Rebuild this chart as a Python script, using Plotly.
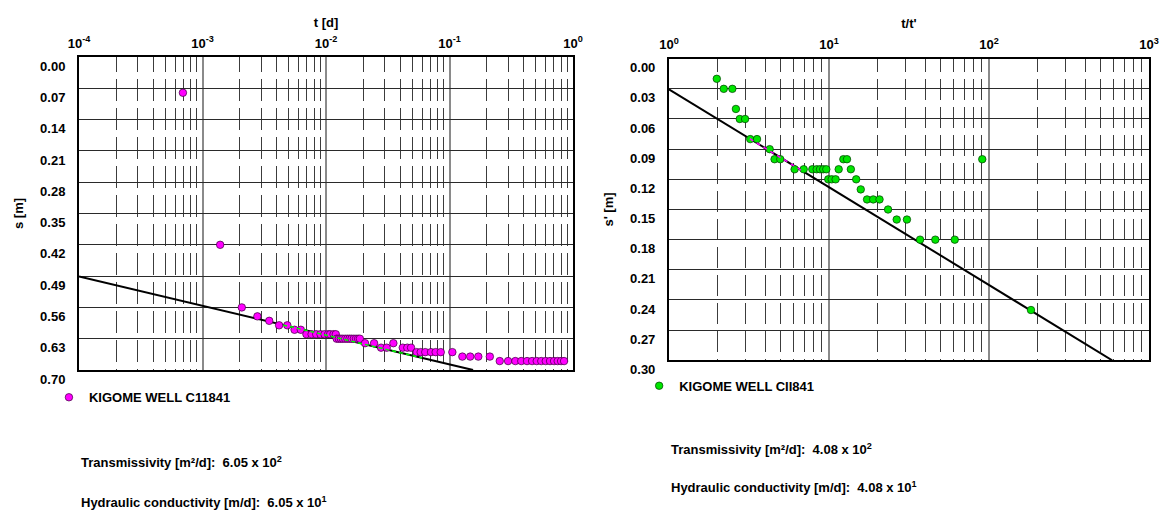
import numpy as np
import plotly.graph_objects as go

# ---- Drawdown test: time since pumping started [d] vs drawdown s [m]
drawdown_t = [
    6.94e-4, 1.39e-3, 2.08e-3, 2.78e-3, 3.47e-3, 4.17e-3, 4.86e-3, 5.56e-3,
    6.25e-3, 6.94e-3, 7.64e-3, 8.33e-3, 9.03e-3, 9.72e-3, 1.04e-2, 1.08e-2,
    1.15e-2, 1.20e-2,
    1.22e-2, 1.27e-2, 1.32e-2, 1.37e-2, 1.43e-2, 1.49e-2, 1.55e-2, 1.61e-2,
    1.68e-2, 1.75e-2, 1.82e-2, 1.88e-2,
    2.07e-2, 2.45e-2, 2.79e-2, 3.10e-2, 3.51e-2, 4.18e-2, 4.55e-2, 4.88e-2,
    5.42e-2, 5.84e-2, 6.36e-2, 7.08e-2, 7.72e-2, 8.49e-2, 0.1054, 0.127,
    0.147, 0.171, 0.212, 0.255, 0.298, 0.341, 0.381, 0.424, 0.466, 0.508,
    0.553, 0.601, 0.651, 0.702, 0.751, 0.800, 0.846,
]
drawdown_s = [
    0.08, 0.42, 0.56, 0.58, 0.59, 0.60, 0.60, 0.61,
    0.61, 0.62, 0.62, 0.62, 0.62, 0.62, 0.62, 0.62,
    0.62, 0.62,
    0.63, 0.63, 0.63, 0.63, 0.63, 0.63, 0.63, 0.63,
    0.63, 0.63, 0.63, 0.63,
    0.64, 0.64, 0.65, 0.65, 0.64, 0.65, 0.65, 0.65,
    0.66, 0.66, 0.66, 0.66, 0.66, 0.66, 0.66, 0.67,
    0.67, 0.67, 0.67, 0.68, 0.68, 0.68, 0.68, 0.68, 0.68, 0.68,
    0.68, 0.68, 0.68, 0.68, 0.68, 0.68, 0.68,
]

# ---- Recovery test: t/t' vs residual drawdown s' [m]
recovery_ratio = [
    1.99, 2.20, 2.49, 2.62, 2.77, 2.99, 3.22, 3.55, 4.26, 4.57, 4.96, 6.10,
    6.95, 7.87, 8.38, 8.79, 9.21, 9.62, 9.90, 10.4, 11.0, 11.5, 12.3, 12.96,
    13.7, 14.8, 15.8, 17.3, 18.9, 20.7, 23.4, 26.5, 30.7, 37.1, 46.2, 61.1,
    90.8, 183.0,
]
recovery_s = [
    0.02, 0.03, 0.03, 0.05, 0.06, 0.06, 0.08, 0.08, 0.09, 0.10, 0.10, 0.11,
    0.11, 0.11, 0.11, 0.11, 0.11, 0.11, 0.12, 0.12, 0.12, 0.11, 0.10, 0.10,
    0.11, 0.12, 0.13, 0.14, 0.14, 0.14, 0.15, 0.16, 0.16, 0.18, 0.18, 0.18,
    0.10, 0.25,
]

# ---- Straight-line (Cooper-Jacob) fits: s = intercept + slope * log10(t)
drawdown_fit = {"intercept": 0.753, "slope": 0.0655, "from": 1e-4, "to_s": 0.70,
                "range": [4.5e-3, 6.0e-2]}
recovery_fit = {"intercept": 0.0305, "slope": 0.0973, "from": 1.0, "to_s": 0.30,
                "range": [3.2, 7.0]}

drawdown_ticks = [0.00, 0.07, 0.14, 0.21, 0.28, 0.35, 0.42, 0.49, 0.56, 0.63, 0.70]
recovery_ticks = [0.00, 0.03, 0.06, 0.09, 0.12, 0.15, 0.18, 0.21, 0.24, 0.27, 0.30]

series_left = "KIGOME WELL C11841"
series_right = "KIGOME WELL CII841"

FONT = "Liberation Sans, Arial, sans-serif"
MAGENTA = "#ff00ff"
GREEN = "#00e600"


def fit_line(fit):
    a, b = fit["intercept"], fit["slope"]
    x_end = 10 ** ((fit["to_s"] - a) / b)
    x = np.array([fit["from"], x_end])
    return x, a + b * np.log10(x)


def fit_segment(fit):
    a, b = fit["intercept"], fit["slope"]
    x = np.array(fit["range"])
    return x, a + b * np.log10(x)


def decade_ticks(lo, hi):
    vals = [10.0 ** k for k in range(lo, hi + 1)]
    text = [f"10<sup>{k}</sup>" for k in range(lo, hi + 1)]
    return vals, text


def minor_vals(lo, hi):
    return [d * 10.0 ** k for k in range(lo, hi) for d in range(2, 10)]


fig = go.Figure()

# fitted straight lines
lx, ly = fit_line(drawdown_fit)
fig.add_trace(go.Scatter(x=lx, y=ly, mode="lines", xaxis="x", yaxis="y",
                         line=dict(color="black", width=2), showlegend=False,
                         hoverinfo="skip"))
rx, ry = fit_line(recovery_fit)
fig.add_trace(go.Scatter(x=rx, y=ry, mode="lines", xaxis="x2", yaxis="y2",
                         line=dict(color="black", width=2), showlegend=False,
                         hoverinfo="skip"))

# observations
fig.add_trace(go.Scatter(
    x=drawdown_t, y=drawdown_s, mode="markers", name=series_left,
    xaxis="x", yaxis="y", legend="legend",
    marker=dict(color=MAGENTA, size=7.5, line=dict(color="rgba(60,0,60,0.7)", width=1)),
))
fig.add_trace(go.Scatter(
    x=recovery_ratio, y=recovery_s, mode="markers", name=series_right,
    xaxis="x2", yaxis="y2", legend="legend2",
    marker=dict(color=GREEN, size=7.5, line=dict(color="rgba(0,60,0,0.7)", width=1)),
))

# points used for the fit, highlighted along the line
sx, sy = fit_segment(drawdown_fit)
fig.add_trace(go.Scatter(x=sx, y=sy, mode="lines", xaxis="x", yaxis="y",
                         line=dict(color="#00ff00", width=1.5, dash="4px,3px"),
                         showlegend=False, hoverinfo="skip"))
sx2, sy2 = fit_segment(recovery_fit)
fig.add_trace(go.Scatter(x=sx2, y=sy2, mode="lines", xaxis="x2", yaxis="y2",
                         line=dict(color=MAGENTA, width=1.5, dash="4px,4px"),
                         showlegend=False, hoverinfo="skip"))

tick_font = dict(family=FONT, size=13, color="black", weight="bold")

dash_left = "15px,7px," + ",".join(["22px,7px"] * 11)
dash_right = "13px,7px," + ",".join(["21px,7px"] * 11)


def x_axis(lo, hi, domain, anchor, title, dash):
    vals, text = decade_ticks(lo, hi)
    return dict(
        type="log", range=[lo, hi], domain=domain, anchor=anchor, side="top",
        tickvals=vals, ticktext=text, ticks="", tickfont=tick_font,
        showgrid=True, gridcolor="#8a8a8a", gridwidth=1.5,
        minor=dict(tickvals=minor_vals(lo, hi), showgrid=True, gridcolor="#3c3c3c",
                   gridwidth=1, griddash=dash, ticks=""),
        showline=True, linecolor="black", linewidth=2, mirror=True,
        zeroline=False, automargin=False, ticklabelstandoff=2,
        title=dict(text=title, font=tick_font, standoff=4),
    )


def y_axis(ticks, domain, anchor, title):
    return dict(
        range=[ticks[-1], ticks[0]], domain=domain, anchor=anchor,
        tickvals=ticks, ticktext=[f"{v:.2f}" for v in ticks], ticks="",
        ticklabelposition="outside bottom",
        tickfont=tick_font, showgrid=True, gridcolor="#2a2a2a", gridwidth=1,
        showline=True, linecolor="black", linewidth=2, mirror=True,
        zeroline=False, ticklabelstandoff=9, automargin=False,
        title=dict(text=title, font=tick_font, standoff=14),
    )


legend_common = dict(font=dict(family=FONT, size=13, color="black", weight="bold"),
                     bgcolor="rgba(0,0,0,0)", borderwidth=0, xanchor="left",
                     yanchor="middle", itemclick=False, itemdoubleclick=False)

ann_font = dict(family=FONT, size=13, color="black", weight="bold")


def text_note(x, y, text):
    return dict(x=x, y=y, xref="paper", yref="paper", xanchor="left",
                yanchor="middle", showarrow=False, text=text, font=ann_font)


fig.update_layout(
    width=1160, height=512,
    margin=dict(l=0, r=0, t=0, b=0, autoexpand=False),
    paper_bgcolor="white", plot_bgcolor="white",
    font=dict(family=FONT, color="black"),
    xaxis=x_axis(-4, 0, [0.0681, 0.4940], "y", "t [d]", dash_left),
    yaxis=y_axis(drawdown_ticks, [0.2773, 0.8887], "x", "s [m]"),
    xaxis2=x_axis(0, 3, [0.5767, 0.9905], "y2", "t/t'", dash_right),
    yaxis2=y_axis(recovery_ticks, [0.2963, 0.8854], "x2", "s' [m]"),
    legend=dict(x=0.0422, y=0.224, **legend_common),
    legend2=dict(x=0.551, y=0.2465, **legend_common),
    annotations=[
        text_note(0.0681, 0.0982, "Transmissivity [m²/d]:  6.05 x 10<sup>2</sup>"),
        text_note(0.0681, 0.0201, "Hydraulic conductivity [m/d]:  6.05 x 10<sup>1</sup>"),
        text_note(0.5767, 0.1230, "Transmissivity [m²/d]:  4.08 x 10<sup>2</sup>"),
        text_note(0.5767, 0.0494, "Hydraulic conductivity [m/d]:  4.08 x 10<sup>1</sup>"),
    ],
)

fig.write_html("out.html")
